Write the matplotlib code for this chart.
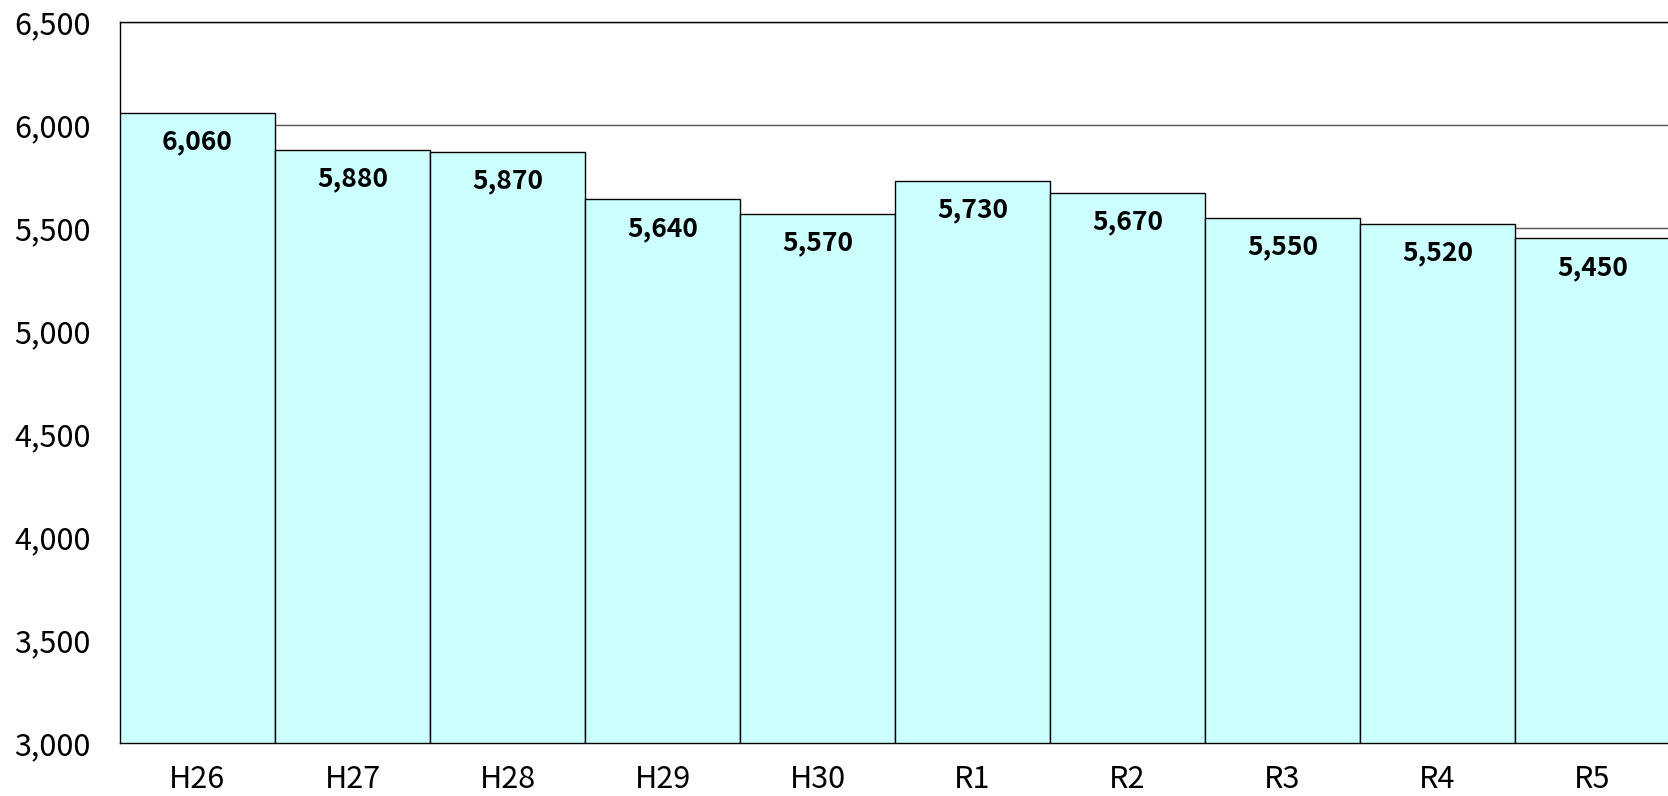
import matplotlib
matplotlib.use("Agg")
import matplotlib.pyplot as plt
from matplotlib.ticker import FuncFormatter

years  = ["H26", "H27", "H28", "H29", "H30", "R1", "R2", "R3", "R4", "R5"]
values = [6060, 5880, 5870, 5640, 5570, 5730, 5670, 5550, 5520, 5450]
y_ticks = [3000, 3500, 4000, 4500, 5000, 5500, 6000, 6500]

plt.rcParams["font.family"] = ["Noto Sans CJK JP", "DejaVu Sans"]

W, H = 1668, 796
fig = plt.figure(figsize=(W / 100, H / 100), dpi=100)
ax = fig.add_axes([120 / W, 1 - 743 / H, 1550 / W, (743 - 22) / H])

x = list(range(len(years)))
ax.bar(x, [v - 3000 for v in values], bottom=3000, width=1.0,
       color="#CCFFFF", edgecolor="black", linewidth=1.0, zorder=3)
ax.set_xlim(-0.5, len(years) - 0.5)
ax.set_ylim(3000, 6500)
ax.set_yticks(y_ticks)
ax.yaxis.set_major_formatter(FuncFormatter(lambda v, p: f"{int(v):,}"))
ax.set_xticks(x)
ax.set_xticklabels(years)
ax.tick_params(axis="both", length=0, labelsize=22)
ax.tick_params(axis="y", pad=21)
ax.tick_params(axis="x", pad=15)
ax.grid(axis="y", color="#555555", linewidth=1.0, zorder=1)

for s in ["left", "bottom", "top"]:
    ax.spines[s].set_color("black")
    ax.spines[s].set_linewidth(1.0)
ax.spines["right"].set_visible(False)

for xi, v in zip(x, values):
    ax.annotate(f"{v:,}", (xi, v), xytext=(0, -21), textcoords="offset points",
                ha="center", va="center", fontsize=19, fontweight="bold", zorder=4)

fig.savefig("out.png", dpi=100)
